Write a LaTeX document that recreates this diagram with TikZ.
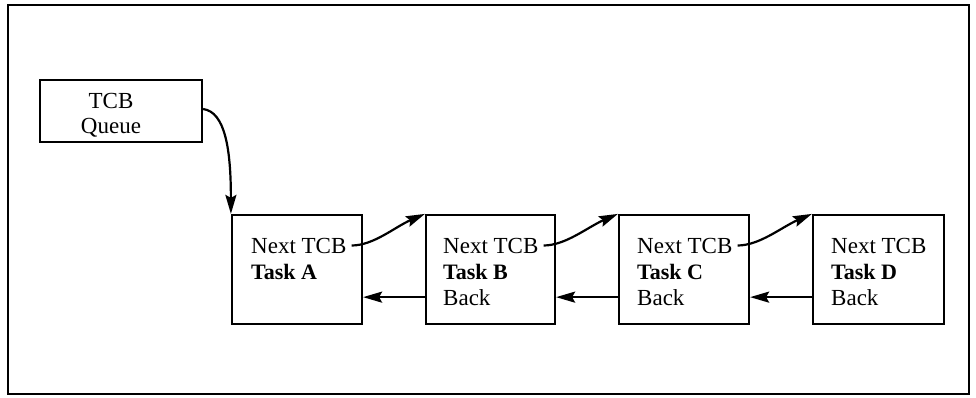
\documentclass[tikz,border=0pt]{standalone}
\usepackage{fontspec}
\setmainfont{Liberation Serif}
\usetikzlibrary{arrows.meta}
\begin{document}
\begin{tikzpicture}[x=1pt,y=-1pt,
  frame/.style={draw,line width=2.2pt},
  box/.style={draw,line width=2.2pt,inner sep=0pt},
  lbl/.style={anchor=base west,inner sep=0pt,font=\fontsize{23}{26}\selectfont},
  blbl/.style={anchor=base west,inner sep=0pt,font=\fontsize{22}{26}\selectfont\bfseries},
  qlbl/.style={anchor=base,inner sep=0pt,font=\fontsize{23}{26}\selectfont},
  conn/.style={line width=2.2pt,-{Stealth[length=19pt,width=11pt,inset=3pt]}}]
\useasboundingbox (0,0) rectangle (976,397);
\draw[frame] (8,5) rectangle (969,394);
% boxes
\node[box,minimum width=162pt,minimum height=62pt] (Q) at (121,111) {};
\node[box,minimum width=130pt,minimum height=109pt] (A) at (297,269.5) {};
\node[box,minimum width=129pt,minimum height=109pt] (B) at (490.5,269.5) {};
\node[box,minimum width=130pt,minimum height=109pt] (C) at (684,269.5) {};
\node[box,minimum width=131pt,minimum height=109pt] (D) at (878.5,269.5) {};
% queue texts
\node[qlbl] (qt) at (111,108) {TCB};
\node[qlbl] (qq) at (111,133) {Queue};
% texts
\node[lbl] (nA) at (251,253) {Next TCB};
\node[blbl] (tA) at (251,279) {Task A};
\node[lbl] (nB) at (443,253) {Next TCB};
\node[blbl] (tB) at (443,279) {Task B};
\node[lbl] (bB) at (443,305) {Back};
\node[lbl] (nC) at (637,253) {Next TCB};
\node[blbl] (tC) at (637,279) {Task C};
\node[lbl] (bC) at (637,305) {Back};
\node[lbl] (nD) at (831,253) {Next TCB};
\node[blbl] (tD) at (831,279) {Task D};
\node[lbl] (bD) at (831,305) {Back};
% connectors
\draw[conn] ([yshift=2pt]Q.east) .. controls +(22,3) and +(0,-65) .. (A.north west);
\draw[conn] ([xshift=5pt]nA.east) .. controls +(22,0) and +(-30,13) .. (B.north west);
\draw[conn] ([xshift=5pt]nB.east) .. controls +(22,0) and +(-30,13) .. (C.north west);
\draw[conn] ([xshift=5pt]nC.east) .. controls +(22,0) and +(-30,13) .. (D.north west);
\draw[conn] (B.west |- bB.west) -- (A.east |- bB.west);
\draw[conn] (C.west |- bC.west) -- (B.east |- bC.west);
\draw[conn] (D.west |- bD.west) -- (C.east |- bD.west);
\end{tikzpicture}
\end{document}
